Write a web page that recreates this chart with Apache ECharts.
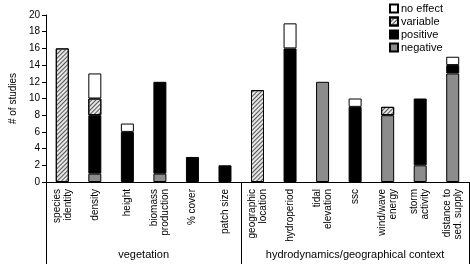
<!DOCTYPE html>
<html>
<head>
<meta charset="utf-8">
<script src="https://cdn.jsdelivr.net/npm/echarts@6/dist/echarts.min.js"></script>
<style>
  html, body { margin: 0; padding: 0; background: #fff; }
  #chart { width: 470px; height: 264px; }
</style>
</head>
<body>
<div id="chart"></div>
<script>
// categories and counts per effect type
let categories = ['species\nidentity', 'density', 'height', 'biomass\nproduction', '% cover', 'patch size',
    'geographic\nlocation', 'hydroperiod', 'tidal\nelevation', 'ssc', 'wind/wave\nenergy', 'storm\nactivity', 'distance to\nsed. supply'];
let negative = [0, 1, 0, 1, 0, 0, 0, 0, 12, 0, 8, 2, 13];
let positive = [0, 7, 6, 11, 3, 2, 0, 16, 0, 9, 0, 8, 1];
let variable = [16, 2, 0, 0, 0, 0, 11, 0, 0, 0, 1, 0, 0];
let noEffect = [0, 3, 1, 0, 0, 0, 0, 3, 0, 1, 0, 0, 1];
let groups = ['vegetation', 'hydrodynamics/geographical context'];
let groupBounds = [0, 6, 13];
let yTicks = [0, 20, 2];

let fontFam = '"Liberation Sans", Arial, sans-serif';

function clean(arr) {
    return arr.map(function (v) { return v === 0 ? '-' : v; });
}

let myChart = echarts.init(document.getElementById('chart'));

let barBase = {
    type: 'bar',
    stack: 'total',
    barWidth: 13,
    xAxisIndex: 0,
    emphasis: { disabled: true }
};

let option = {
    animation: false,
    textStyle: { fontFamily: fontFam, color: '#000' },
    legend: {
        data: ['no effect', 'variable', 'positive', 'negative'],
        icon: 'rect',
        orient: 'vertical',
        left: 384,
        top: -2,
        itemWidth: 8,
        itemHeight: 8,
        itemGap: 2,
        textStyle: { fontSize: 11, fontFamily: fontFam, color: '#000', padding: [0, 0, 0, -2] },
        selectedMode: false
    },
    grid: { left: 35, right: 1, top: 15, bottom: 82, containLabel: false },
    xAxis: [
        {
            type: 'category',
            data: categories,
            position: 'bottom',
            axisLine: { lineStyle: { color: '#000', width: 1 } },
            axisTick: { interval: 0, length: 60, lineStyle: { color: '#000' } },
            axisLabel: {
                interval: 0, rotate: 90, margin: 7, fontSize: 10, lineHeight: 11,
                color: '#000', fontFamily: fontFam
            }
        },
        {
            type: 'value',
            min: groupBounds[0],
            max: groupBounds[2],
            position: 'bottom',
            offset: 0,
            axisLine: { show: false },
            splitLine: { show: false },
            axisTick: { show: true, customValues: groupBounds, length: 82, lineStyle: { color: '#000' } },
            axisLabel: {
                customValues: [(groupBounds[0] + groupBounds[1]) / 2, (groupBounds[1] + groupBounds[2]) / 2],
                margin: 67, fontSize: 11, color: '#000', fontFamily: fontFam,
                formatter: function (v) { return v < groupBounds[1] ? groups[0] : groups[1]; }
            }
        }
    ],
    yAxis: {
        type: 'value',
        min: yTicks[0],
        max: yTicks[1],
        interval: yTicks[2],
        name: '# of studies',
        nameLocation: 'middle',
        nameRotate: 90,
        nameGap: 25,
        nameTextStyle: { fontSize: 10, color: '#000', fontFamily: fontFam },
        axisLine: { show: true, lineStyle: { color: '#000' } },
        axisTick: { show: true, length: 4, lineStyle: { color: '#000' } },
        splitLine: { show: false },
        axisLabel: { fontSize: 10, margin: 6, color: '#000', fontFamily: fontFam }
    },
    series: [
        Object.assign({}, barBase, {
            name: 'negative',
            data: clean(negative),
            itemStyle: { color: '#8c8c8c', borderColor: '#000', borderWidth: 1 }
        }),
        Object.assign({}, barBase, {
            name: 'positive',
            data: clean(positive),
            itemStyle: { color: '#000', borderColor: '#000', borderWidth: 1 }
        }),
        Object.assign({}, barBase, {
            name: 'variable',
            data: clean(variable),
            itemStyle: {
                color: '#e6e6e6', borderColor: '#000', borderWidth: 1,
                decal: {
                    symbol: 'rect', symbolSize: 1,
                    dashArrayX: [[1, 0]], dashArrayY: [1, 2],
                    rotation: -Math.PI / 4, color: '#555'
                }
            }
        }),
        Object.assign({}, barBase, {
            name: 'no effect',
            data: clean(noEffect),
            itemStyle: { color: '#fff', borderColor: '#000', borderWidth: 1 }
        })
    ]
};

myChart.setOption(option);
window.addEventListener('resize', function () {
    myChart.resize();
});
</script>
</body>
</html>
